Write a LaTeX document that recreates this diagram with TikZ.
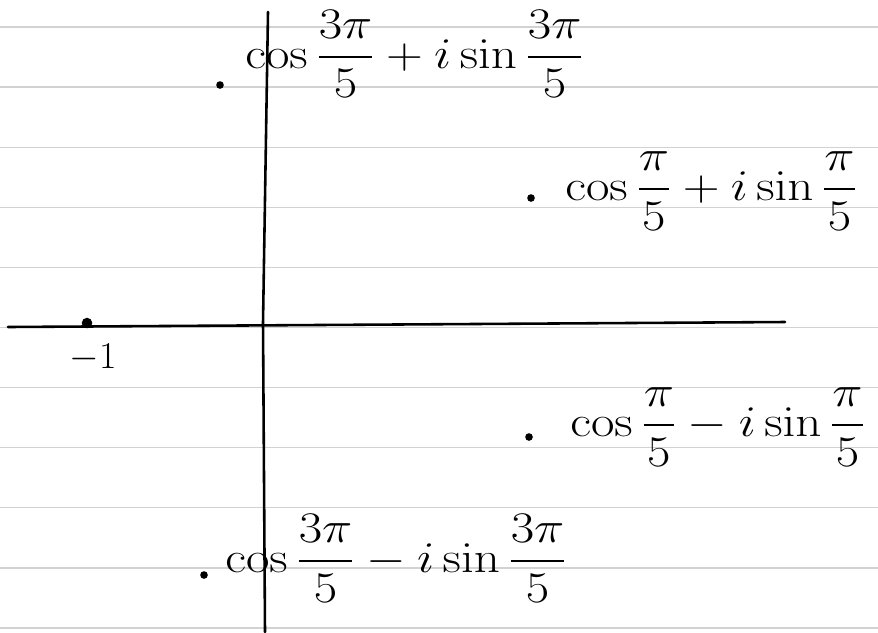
\documentclass[tikz,border=0pt]{standalone}
\usepackage{amsmath}
\usepackage{xcolor}
\usepackage{tikz}
\usetikzlibrary{positioning}

\begin{document}
\begin{tikzpicture}[
  x=0.03cm, y=-0.03cm,
  font=\fontsize{24.88}{30}\selectfont,
  rule/.style={gray!35, line width=1.1pt},
  axis/.style={line width=2.2pt, line cap=round},
  root/.style={circle, fill, inner sep=0pt, minimum size=6.5pt},
  val/.style={anchor=base west, inner sep=0pt, xscale=1.75, yscale=1.5}
]
  \useasboundingbox[fill=white] (0,0) rectangle (878,632);
  \foreach \k in {0,...,10}
    \draw[rule] (0,{27+60.1*\k}) -- (878,{27+60.1*\k});

  \coordinate (yt) at (268,12);
  \coordinate (o) at (263,323);
  \coordinate (yb) at (265,632);
  \coordinate (xl) at (8,327);
  \coordinate (xr) at (785,322);
  \draw[axis] (yt) -- (o) -- (yb);
  \draw[axis] (xl) -- (xr);

  \node[root, minimum size=9pt] (m1) at (87,323) {};
  \node[scale=1.3] (m1v) at (93,358) {$-1$};

  \node[root] (z1) at (220,85) {};
  \node[val] (z1v) at (245,68) {$\displaystyle\cos\frac{3\pi}{5}+i\sin\frac{3\pi}{5}$};

  \node[root] (z2) at (531,198) {};
  \node[val] (z2v) at (565,200) {$\displaystyle\cos\frac{\pi}{5}+i\sin\frac{\pi}{5}$};

  \node[root] (z3) at (529,437) {};
  \node[val] (z3v) at (570,436) {$\displaystyle\cos\frac{\pi}{5}-i\sin\frac{\pi}{5}$};

  \node[root] (z4) at (204,575) {};
  \node[val] (z4v) at (225,572) {$\displaystyle\cos\frac{3\pi}{5}-i\sin\frac{3\pi}{5}$};
\end{tikzpicture}
\end{document}
